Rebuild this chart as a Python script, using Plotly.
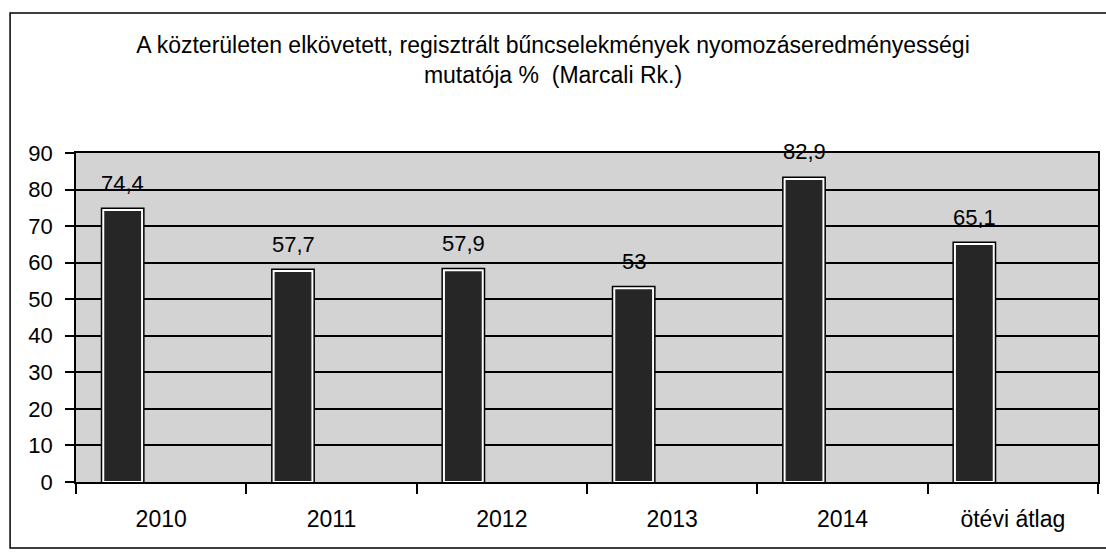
import plotly.graph_objects as go

categories = ["2010", "2011", "2012", "2013", "2014", "ötévi átlag"]
values = [74.4, 57.7, 57.9, 53, 82.9, 65.1]
value_labels = ["74,4", "57,7", "57,9", "53", "82,9", "65,1"]
y_ticks = [0, 10, 20, 30, 40, 50, 60, 70, 80, 90]
title_text = ("A közterületen elkövetett, regisztrált bűncselekmények nyomozáseredményességi"
              "<br>mutatója %&nbsp;&nbsp;(Marcali Rk.)")

FONT = "Liberation Sans, Arial, sans-serif"
BAR_W = 0.228
BAR_OFF = -0.34

fig = go.Figure()
# outer black frame of bars
fig.add_trace(go.Bar(
    x=categories, y=values, width=BAR_W, offset=BAR_OFF,
    marker=dict(color="black", line=dict(color="black", width=5)),
    hoverinfo="skip", showlegend=False,
))
# inner dark bar with white gap
fig.add_trace(go.Bar(
    x=categories, y=values, width=BAR_W, offset=BAR_OFF,
    marker=dict(color="#262626", line=dict(color="white", width=2)),
    showlegend=False,
))

for i, (v, lab) in enumerate(zip(values, value_labels)):
    fig.add_annotation(
        x=i + BAR_OFF + BAR_W / 2, y=v, text=lab, showarrow=False,
        yshift=27, yanchor="middle", xanchor="center",
        font=dict(family=FONT, size=22, color="black"),
    )

# outer chart border
fig.add_shape(type="rect", xref="paper", yref="paper",
              x0=-0.0645, x1=1.02, y0=-0.2006, y1=1.4255,
              line=dict(color="black", width=1.5), layer="above")

fig.update_layout(
    width=1106, height=555,
    margin=dict(l=76, r=6, t=153, b=73),
    paper_bgcolor="white",
    plot_bgcolor="#d3d3d3",
    barmode="overlay",
    font=dict(family=FONT, color="black"),
    title=dict(text=title_text, x=0.5, xref="container", xanchor="center",
               y=1 - 53 / 555, yref="container", yanchor="top",
               font=dict(family=FONT, size=23, color="black")),
)
fig.update_xaxes(
    type="category", range=[-0.5, 5.5],
    tickson="boundaries", ticks="outside", ticklen=10, tickcolor="black", tickwidth=1.5,
    showline=True, linecolor="black", linewidth=1.5, mirror=True,
    showgrid=False, ticklabelstandoff=16,
    tickfont=dict(family=FONT, size=23, color="black"),
)
fig.update_yaxes(
    range=[0, 90], tickvals=y_ticks,
    ticks="outside", ticklen=9, tickcolor="black", tickwidth=1.5,
    showline=True, linecolor="black", linewidth=1.5, mirror=True,
    showgrid=True, gridcolor="black", gridwidth=1.5, zeroline=False,
    ticklabelstandoff=8,
    tickfont=dict(family=FONT, size=22, color="black"),
)

fig.write_html("out.html", config={"displayModeBar": False},
               post_script="document.body.style.margin='0';")
